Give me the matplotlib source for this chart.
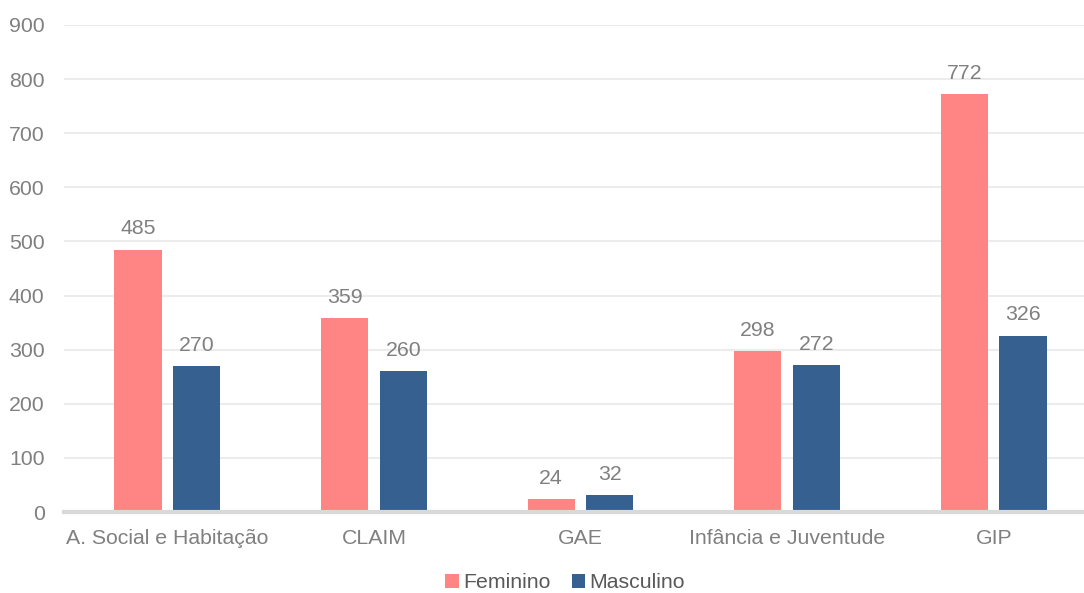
import numpy as np
import matplotlib.pyplot as plt

plt.rcParams["font.family"] = ["Liberation Sans", "DejaVu Sans"]

categories = ["A. Social e Habitação", "CLAIM", "GAE", "Infância e Juventude", "GIP"]
feminino = [485, 359, 24, 298, 772]
masculino = [270, 260, 32, 272, 326]
yticks = [0, 100, 200, 300, 400, 500, 600, 700, 800, 900]

pink = "#FF8585"
blue = "#356090"
grey_text = "#808080"

fig = plt.figure(figsize=(10.84, 5.93), dpi=100)
ax = fig.add_axes([64 / 1084, 81 / 593, 1 - 64 / 1084, (512 - 25) / 593])

x = np.arange(len(categories))
w = 0.228
off = 0.142
b1 = ax.bar(x - off, feminino, w, color=pink, label="Feminino", zorder=3)
b2 = ax.bar(x + off, masculino, w, color=blue, label="Masculino", zorder=3)

for bars in (b1, b2):
    for r in bars:
        ax.annotate(f"{int(r.get_height())}", (r.get_x() + r.get_width() / 2, r.get_height()),
                    xytext=(0, 8), textcoords="offset points", ha="center", va="bottom",
                    fontsize=15.3, color=grey_text)

# group pitch ~206.6 px, plot area is cut at the right edge
ax.set_xlim(-0.5, (1084 - 64) / 206.6 - 0.5)
ax.set_ylim(0, 900)
ax.set_yticks(yticks)
ax.set_xticks(x)
ax.set_xticklabels(categories)
ax.tick_params(axis="both", length=0, labelsize=15.3, colors=grey_text)
ax.tick_params(axis="y", pad=14)
ax.tick_params(axis="x", pad=12)
ax.grid(axis="y", color="#ececec", linewidth=1.5, zorder=0)
for s in ["top", "right", "left"]:
    ax.spines[s].set_visible(False)
ax.spines["bottom"].set_color("#d9d9d9")
ax.spines["bottom"].set_linewidth(3)
ax.spines["bottom"].set_zorder(4)

fig.legend(loc="center", bbox_to_anchor=(565 / 1084, 1 - 583 / 593), ncol=2, frameon=False,
           fontsize=15.3, labelcolor="#595959", handlelength=0.65, handleheight=0.65,
           handletextpad=0.2, columnspacing=1.0)

fig.savefig("out.png", dpi=100)
